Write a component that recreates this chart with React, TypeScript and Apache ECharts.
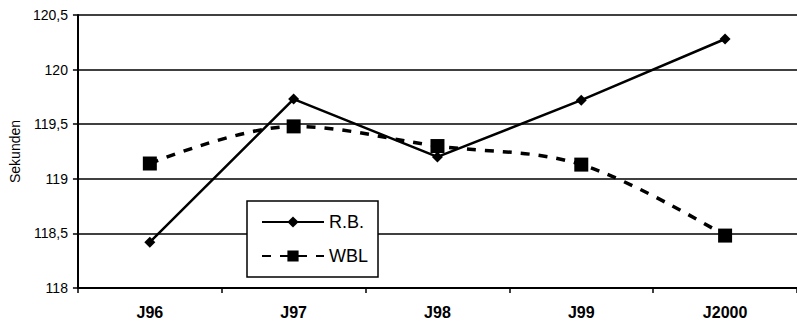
import React, { useEffect, useRef } from "react";
import * as echarts from "echarts";

const categories = ["J96", "J97", "J98", "J99", "J2000"];
const rbValues = [118.42, 119.73, 119.2, 119.72, 120.28];
const wblValues = [119.14, 119.48, 119.3, 119.13, 118.48];

const FONT = "'Liberation Sans', Arial, sans-serif";

export default function App() {
  const ref = useRef<HTMLDivElement>(null);

  useEffect(() => {
    if (!ref.current) return;
    const chart = echarts.init(ref.current, undefined, { renderer: "svg" });
    chart.setOption({
      animation: false,
      backgroundColor: "#ffffff",
      grid: { left: 77, right: 0, top: 15, bottom: 34 },
      legend: {
        orient: "vertical",
        left: 247,
        top: 201,
        padding: [12, 10, 12, 14],
        itemGap: 16,
        itemWidth: 62,
        itemHeight: 14,
        backgroundColor: "#ffffff",
        borderColor: "#000000",
        borderWidth: 1.5,
        textStyle: { fontFamily: FONT, fontSize: 18, color: "#000" },
        data: ["R.B.", "WBL"],
      },
      xAxis: {
        type: "category",
        data: categories,
        boundaryGap: true,
        axisLine: { lineStyle: { color: "#000", width: 2 } },
        axisTick: { show: true, length: 5, lineStyle: { color: "#000", width: 1.5 } },
        axisLabel: {
          fontFamily: FONT,
          fontSize: 16,
          fontWeight: "bold",
          color: "#000",
          margin: 16,
        },
      },
      yAxis: {
        type: "value",
        min: 118,
        max: 120.5,
        interval: 0.5,
        name: "Sekunden",
        nameLocation: "middle",
        nameGap: 55,
        nameRotate: 90,
        nameTextStyle: { fontFamily: FONT, fontSize: 14, color: "#000" },
        axisLine: { show: true, lineStyle: { color: "#000", width: 2 } },
        axisTick: { show: true, length: 5, lineStyle: { color: "#000", width: 1.5 } },
        splitLine: { show: true, lineStyle: { color: "#000", width: 1.6 } },
        axisLabel: {
          fontFamily: FONT,
          fontSize: 14,
          color: "#000",
          margin: 10,
          formatter: (v: number) => String(v).replace(".", ","),
        },
      },
      series: [
        {
          name: "R.B.",
          type: "line",
          data: rbValues,
          symbol: "diamond",
          symbolSize: 11,
          itemStyle: { color: "#000" },
          lineStyle: { color: "#000", width: 2.5 },
          z: 3,
        },
        {
          name: "WBL",
          type: "line",
          data: wblValues,
          smooth: 0.35,
          symbol: "rect",
          symbolSize: 14,
          itemStyle: { color: "#000" },
          lineStyle: { color: "#000", width: 3.5, type: [9, 9] },
          z: 2,
        },
      ],
    });
    return () => chart.dispose();
  }, []);

  return (
    <div
      ref={ref}
      style={{ position: "fixed", left: 0, top: 0, width: 797, height: 322 }}
    />
  );
}
